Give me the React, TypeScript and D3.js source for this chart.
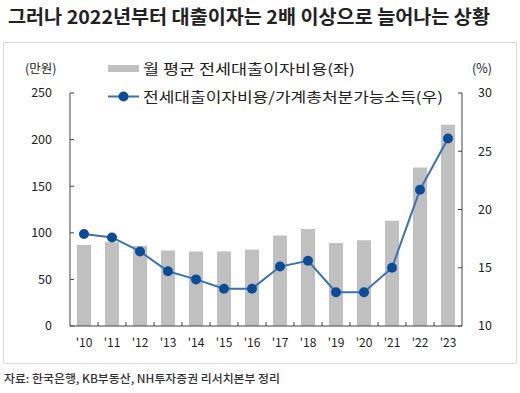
import * as d3 from 'd3';
import { useEffect, useRef } from 'react';

const years = ["'10", "'11", "'12", "'13", "'14", "'15", "'16", "'17", "'18", "'19", "'20", "'21", "'22", "'23"];
// 월 평균 전세대출이자비용 (만원)
const interestCost = [87, 90, 86, 81, 80, 80, 82, 97, 104, 89, 92, 113, 170, 216];
// 전세대출이자비용/가계총처분가능소득 (%)
const incomeRatio = [17.9, 17.6, 16.4, 14.7, 14.0, 13.2, 13.2, 15.1, 15.6, 12.9, 12.9, 15.0, 21.7, 26.1];
const leftTicks = [0, 50, 100, 150, 200, 250];
const rightTicks = [10, 15, 20, 25, 30];

const TITLE = '그러나 2022년부터 대출이자는 2배 이상으로 늘어나는 상황';
const BAR_LABEL = '월 평균 전세대출이자비용(좌)';
const LINE_LABEL = '전세대출이자비용/가계총처분가능소득(우)';
const SOURCE = '자료: 한국은행, KB부동산, NH투자증권 리서치본부 정리';

const W = 520;
const H = 393;
const FONT = "'Noto Sans CJK KR', 'Noto Sans', sans-serif";

export default function App() {
    const svgRef = useRef<SVGSVGElement | null>(null);

    useEffect(() => {
        if (!svgRef.current) return;
        const svg = d3.select(svgRef.current);
        svg.selectAll('*').remove();

        const plot = { left: 70, right: 462, top: 93, bottom: 326 };

        const x = d3.scaleBand().domain(years).range([plot.left, plot.right]).paddingInner(0.5).paddingOuter(0.25);
        const yL = d3.scaleLinear().domain([0, 250]).range([plot.bottom, plot.top]);
        const yR = d3.scaleLinear().domain([10, 30]).range([plot.bottom, plot.top]);

        // title
        svg.append('text')
            .attr('x', 8)
            .attr('y', 24)
            .attr('textLength', 482)
            .attr('lengthAdjust', 'spacingAndGlyphs')
            .style('font-family', FONT)
            .style('font-size', '19px')
            .style('font-weight', 700)
            .attr('fill', '#222')
            .text(TITLE);

        // frame
        svg.append('rect')
            .attr('x', 3.5)
            .attr('y', 42.5)
            .attr('width', 513)
            .attr('height', 321)
            .attr('fill', 'none')
            .attr('stroke', '#d9d9d9');

        // bars
        svg.append('g')
            .selectAll('rect')
            .data(interestCost)
            .join('rect')
            .attr('x', (_, i) => x(years[i])!)
            .attr('y', (d) => yL(d))
            .attr('width', x.bandwidth())
            .attr('height', (d) => plot.bottom - yL(d))
            .attr('fill', '#c0c0c0');

        const axisColor = '#444';

        // left axis
        const left = svg.append('g').attr('transform', `translate(${plot.left},0)`);
        left.append('line').attr('y1', plot.top).attr('y2', plot.bottom).attr('stroke', axisColor);
        left.selectAll('line.tk')
            .data(leftTicks)
            .join('line')
            .attr('class', 'tk')
            .attr('x2', 4)
            .attr('y1', (d) => yL(d))
            .attr('y2', (d) => yL(d))
            .attr('stroke', axisColor);
        left.selectAll('text')
            .data(leftTicks)
            .join('text')
            .attr('x', -18)
            .attr('y', (d) => yL(d))
            .attr('dy', '0.35em')
            .attr('text-anchor', 'end')
            .style('font-family', FONT)
            .style('font-size', '12.5px')
            .attr('fill', '#222')
            .text((d) => d);

        // right axis
        const right = svg.append('g').attr('transform', `translate(${plot.right},0)`);
        right.append('line').attr('y1', plot.top).attr('y2', plot.bottom).attr('stroke', axisColor);
        right.selectAll('line.tk')
            .data(rightTicks)
            .join('line')
            .attr('class', 'tk')
            .attr('x2', -4)
            .attr('y1', (d) => yR(d))
            .attr('y2', (d) => yR(d))
            .attr('stroke', axisColor);
        right.selectAll('text')
            .data(rightTicks)
            .join('text')
            .attr('x', 16)
            .attr('y', (d) => yR(d))
            .attr('dy', '0.35em')
            .style('font-family', FONT)
            .style('font-size', '12.5px')
            .attr('fill', '#222')
            .text((d) => d);

        // bottom axis
        const bottom = svg.append('g').attr('transform', `translate(0,${plot.bottom})`);
        bottom.append('line').attr('x1', plot.left).attr('x2', plot.right).attr('stroke', axisColor);
        const step = x.step();
        bottom.selectAll('line.tk')
            .data(years.slice(1))
            .join('line')
            .attr('class', 'tk')
            .attr('x1', (d) => x(d)! - (step - x.bandwidth()) / 2)
            .attr('x2', (d) => x(d)! - (step - x.bandwidth()) / 2)
            .attr('y2', -4)
            .attr('stroke', axisColor);
        bottom.selectAll('text')
            .data(years)
            .join('text')
            .attr('x', (d) => x(d)! + x.bandwidth() / 2)
            .attr('y', 21)
            .attr('text-anchor', 'middle')
            .style('font-family', FONT)
            .style('font-size', '12px')
            .attr('fill', '#222')
            .text((d) => d);

        // line series
        const lineColor = '#3a72b8';
        const dotColor = '#0b4b98';
        const line = d3
            .line<number>()
            .x((_, i) => x(years[i])! + x.bandwidth() / 2)
            .y((d) => yR(d));
        svg.append('path')
            .datum(incomeRatio)
            .attr('d', line)
            .attr('fill', 'none')
            .attr('stroke', lineColor)
            .attr('stroke-width', 2);
        svg.append('g')
            .selectAll('circle')
            .data(incomeRatio)
            .join('circle')
            .attr('cx', (_, i) => x(years[i])! + x.bandwidth() / 2)
            .attr('cy', (d) => yR(d))
            .attr('r', 5)
            .attr('fill', dotColor);

        // unit labels
        svg.append('text')
            .attr('x', 25)
            .attr('y', 73)
            .style('font-family', FONT)
            .style('font-size', '12.5px')
            .attr('fill', '#222')
            .text('(만원)');
        svg.append('text')
            .attr('x', 492)
            .attr('y', 73)
            .attr('text-anchor', 'end')
            .style('font-family', FONT)
            .style('font-size', '12.5px')
            .attr('fill', '#222')
            .text('(%)');

        // legend
        const lg = svg.append('g');
        lg.append('rect').attr('x', 108).attr('y', 65).attr('width', 31).attr('height', 7).attr('fill', '#c0c0c0');
        lg.append('text')
            .attr('x', 143)
            .attr('y', 74)
            .attr('textLength', 212)
            .attr('lengthAdjust', 'spacingAndGlyphs')
            .style('font-family', FONT)
            .style('font-size', '14px')
            .attr('fill', '#222')
            .text(BAR_LABEL);
        lg.append('line')
            .attr('x1', 108)
            .attr('x2', 139)
            .attr('y1', 96.5)
            .attr('y2', 96.5)
            .attr('stroke', lineColor)
            .attr('stroke-width', 2);
        lg.append('circle').attr('cx', 123.5).attr('cy', 96.5).attr('r', 5).attr('fill', dotColor);
        lg.append('text')
            .attr('x', 143)
            .attr('y', 102)
            .attr('textLength', 300)
            .attr('lengthAdjust', 'spacingAndGlyphs')
            .style('font-family', FONT)
            .style('font-size', '14px')
            .attr('fill', '#222')
            .text(LINE_LABEL);

        // source
        svg.append('text')
            .attr('x', 4)
            .attr('y', 383)
            .attr('textLength', 276)
            .attr('lengthAdjust', 'spacingAndGlyphs')
            .style('font-family', FONT)
            .style('font-size', '11px')
            .style('font-weight', 500)
            .attr('fill', '#333')
            .text(SOURCE);
    }, []);

    return (
        <svg
            ref={svgRef}
            width={W}
            height={H}
            style={{ display: 'block', position: 'absolute', left: 0, top: 0, background: '#fff' }}
        ></svg>
    );
}
